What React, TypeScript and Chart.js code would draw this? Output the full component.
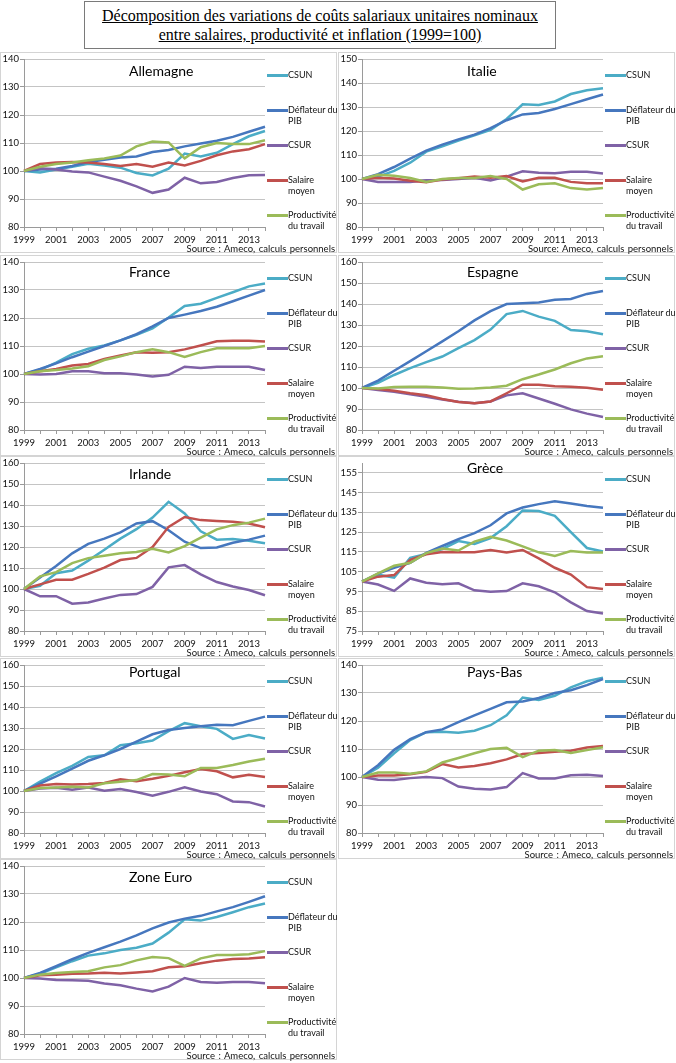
import { useEffect, useRef } from 'react';
import { Chart, registerables } from 'chart.js';

Chart.register(...registerables);

const years = ['1999', '2000', '2001', '2002', '2003', '2004', '2005', '2006', '2007', '2008', '2009', '2010', '2011', '2012', '2013', '2014'];

const seriesNames = ['CSUN', 'Déflateur du PIB', 'CSUR', 'Salaire moyen', 'Productivité du travail'];
const legendLines = [['CSUN'], ['Déflateur du', 'PIB'], ['CSUR'], ['Salaire', 'moyen'], ['Productivité', 'du travail']];
const seriesColors = ['#4bacc6', '#4677be', '#7f62a6', '#c0504d', '#9bbb59'];

const ticks80to140 = [80, 90, 100, 110, 120, 130, 140];
const ticks80to150 = [80, 90, 100, 110, 120, 130, 140, 150];
const ticks80to160 = [80, 90, 100, 110, 120, 130, 140, 150, 160];
const ticks75to155 = [75, 85, 95, 105, 115, 125, 135, 145, 155];

// Allemagne
const deCsun = [100, 99.5, 100.5, 101.5, 102.6, 102, 101.2, 99.3, 98.4, 100.8, 106.2, 105.2, 106.5, 109.6, 112.4, 114.3];
const deDefl = [100, 100.5, 100.8, 101.8, 103.2, 104, 104.8, 105.2, 106.8, 107.5, 108.8, 109.8, 110.8, 112.2, 114, 115.8];
const deCsur = [100, 101, 100.5, 99.8, 99.5, 98, 96.5, 94.5, 92.2, 93.4, 97.6, 95.6, 96.1, 97.5, 98.5, 98.6];
const deSal = [100, 102.5, 103, 103.2, 103, 102.5, 101.8, 102.5, 101.5, 103, 102, 103.6, 105.6, 107, 107.8, 109.6];
const deProd = [100, 101.5, 102.5, 103, 103.8, 104.5, 105.5, 108.8, 110.5, 110.2, 104.5, 108.5, 110, 109.6, 109.6, 111];

// Italie
const itCsun = [100, 101, 103.4, 106.8, 111.4, 113.6, 116, 118.2, 120.5, 125, 131.1, 130.8, 132.3, 135.4, 137, 137.8];
const itDefl = [100, 102, 105, 108.5, 111.8, 114.3, 116.5, 118.5, 121.2, 124.5, 126.9, 127.5, 129.2, 131.2, 133.2, 135.2];
const itCsur = [100, 98.8, 98.8, 98.8, 99.5, 99.6, 100, 100.5, 99.4, 101, 103.2, 102.6, 102.4, 103, 103, 102.3];
const itSal = [100, 100.5, 100.2, 99.3, 98.6, 99.8, 100.3, 101, 100.5, 101.2, 99, 100.5, 100.5, 98.8, 98.2, 98.2];
const itProd = [100, 101.8, 101.4, 100.4, 98.8, 100, 100.4, 100.4, 101.2, 100, 95.6, 97.8, 98.2, 96.2, 95.6, 96.2];

// France
const frCsun = [100, 101.5, 104.1, 107.1, 109, 110.2, 112, 114, 116.3, 120.2, 124.3, 125.1, 127.2, 129.2, 131.3, 132.3];
const frDefl = [100, 101.8, 103.8, 106, 108, 110, 112, 114.2, 117, 120, 121.2, 122.5, 124, 126, 128, 130];
const frCsur = [100, 99.8, 100, 101, 101, 100.3, 100.3, 99.8, 99.1, 99.7, 102.6, 102.1, 102.6, 102.6, 102.6, 101.4];
const frSal = [100, 101, 101.8, 103, 103.6, 105.4, 106.6, 107.8, 107.6, 107.8, 108.8, 110.2, 111.7, 111.9, 111.9, 111.6];
const frProd = [100, 101, 101.4, 102, 102.8, 105, 106.3, 107.8, 108.8, 107.8, 106.1, 107.8, 109.2, 109.2, 109.2, 110];

// Espagne
const esCsun = [100, 102.5, 106.2, 109.5, 112.3, 115, 119, 122.8, 127.8, 135.2, 136.7, 134, 132, 127.6, 127, 125.6];
const esDefl = [100, 103.5, 108.2, 112.8, 117.5, 122.2, 127, 132.2, 136.6, 140, 140.4, 140.7, 142, 142.4, 144.8, 146.2];
const esCsur = [100, 99, 98.2, 97, 95.8, 94.5, 93.5, 92.7, 93.6, 96.5, 97.5, 95, 92.5, 89.8, 87.8, 86.2];
const esSal = [100, 99.5, 98.7, 97.5, 96.5, 94.8, 93.3, 92.7, 93.6, 97.5, 101.6, 101.5, 100.8, 100.6, 100.1, 99.2];
const esProd = [100, 99.8, 100.5, 100.6, 100.6, 100.2, 99.6, 99.8, 100.2, 101.1, 104.2, 106.4, 108.8, 111.8, 114.1, 115.1];

// Irlande
const ieCsun = [100, 101.5, 107.5, 108.8, 113.5, 118.7, 124, 128.5, 134, 141.5, 136, 127.5, 123.5, 123.8, 123, 121.8];
const ieDefl = [100, 105.5, 111, 117, 121.5, 124, 127, 131.2, 132.3, 128, 122.5, 119.5, 119.8, 122, 123.5, 125.4];
const ieCsur = [100, 96.5, 96.6, 93, 93.6, 95.5, 97.2, 97.6, 101, 110.3, 111.4, 107, 103.3, 101.2, 99.5, 97];
const ieSal = [100, 102.2, 104.4, 104.4, 107.2, 110.2, 113.8, 114.8, 120, 129.6, 134.3, 132.8, 132.4, 132, 131.2, 129.4];
const ieProd = [100, 106, 108, 112.3, 114.7, 115.8, 117, 117.6, 119.2, 117.4, 120.4, 124.5, 128.4, 130.4, 131.6, 133.5];

// Grèce
const grCsun = [100, 103.5, 102, 112, 114, 116.5, 120.5, 119, 122, 128, 136, 135.7, 133.3, 125, 117, 115.2];
const grDefl = [100, 104, 107, 109.5, 114.5, 118, 121.5, 124.5, 128.5, 134.5, 137.5, 139.2, 140.6, 139.5, 138.2, 137.4];
const grCsur = [100, 98.5, 95.3, 101.6, 99.4, 98.7, 99.1, 95.6, 94.8, 95.2, 99.1, 97.6, 94.6, 89.5, 85.1, 83.8];
const grSal = [100, 102.5, 103.3, 111, 113.8, 115, 114.8, 114.8, 116, 114.7, 116, 111.7, 107, 103.6, 97.2, 96.2];
const grProd = [100, 104.2, 108, 109.5, 114.4, 116.7, 115.7, 120.2, 122.7, 120.8, 117.8, 114.8, 113, 115.5, 114.7, 114.7];

// Portugal
const ptCsun = [100, 104.5, 108.5, 112, 116.2, 117, 121.8, 122.7, 124, 128.5, 132.3, 130.8, 129.6, 124.8, 126.6, 125];
const ptDefl = [100, 103.5, 107, 110.7, 114.4, 117, 120, 123.5, 127, 129, 130, 130.8, 131.6, 131.3, 133.4, 135.4];
const ptCsur = [100, 101.2, 101.6, 100.6, 101.7, 100.1, 101, 99.5, 97.8, 99.6, 101.8, 99.8, 98.5, 95, 94.7, 92.6];
const ptSal = [100, 102.6, 103.3, 103.1, 103.3, 103.8, 105.6, 104.7, 105.8, 107.2, 108.9, 110.5, 109.4, 106.5, 107.7, 106.7];
const ptProd = [100, 101.4, 101.7, 102, 101.7, 103.7, 104.4, 105.2, 108.1, 107.8, 107, 111, 111, 112.4, 114, 115.4];

// Pays-Bas
const nlCsun = [100, 103.3, 108.5, 113.2, 116, 116.2, 115.8, 116.5, 118.5, 122, 128.4, 127.5, 129, 132, 134.2, 135.5];
const nlDefl = [100, 104.2, 109.7, 113.5, 116, 117, 119.6, 122, 124.3, 126.7, 127, 128.2, 130, 131, 132.8, 135];
const nlCsur = [100, 99, 98.9, 99.6, 100, 99.6, 96.6, 95.8, 95.5, 96.4, 101.4, 99.5, 99.5, 100.6, 100.8, 100.4];
const nlSal = [100, 100.5, 100.5, 101, 101.9, 104.6, 103.4, 103.9, 104.9, 106.3, 108.2, 108.6, 109, 109.4, 110.5, 111.1];
const nlProd = [100, 101.6, 101.6, 101.2, 102, 105.2, 106.8, 108.5, 110, 110.4, 107.1, 109.4, 109.6, 108.6, 109.6, 110.6];

// Zone Euro
const ezCsun = [100, 101.5, 103.8, 106, 108, 108.8, 110, 110.8, 112.3, 116.2, 121, 120.5, 121.8, 123.5, 125.3, 126.6];
const ezDefl = [100, 101.8, 104.2, 106.7, 109, 111, 113, 115.2, 117.7, 119.8, 121.2, 122.2, 123.8, 125.3, 127.2, 129.2];
const ezCsur = [100, 99.8, 99.3, 99.2, 99, 98, 97.4, 96.2, 95.2, 96.9, 100, 98.6, 98.3, 98.6, 98.6, 98.1];
const ezSal = [100, 101, 101.2, 101.5, 101.6, 101.9, 101.6, 102, 102.4, 103.8, 104.2, 105.3, 106.2, 106.8, 107, 107.4];
const ezProd = [100, 101.2, 101.8, 102.1, 102.4, 103.8, 104.6, 106.3, 107.5, 107.1, 104.3, 107, 108.2, 108.2, 108.5, 109.6];

const sourceText = 'Source : Ameco, calculs personnels';

interface PanelConfig {
  name: string;
  series: number[][];
  yTicks: number[];
  yMax: number;
  source: string;
  titleY: number;
}

const panels: PanelConfig[] = [
  { name: 'Allemagne', series: [deCsun, deDefl, deCsur, deSal, deProd], yTicks: ticks80to140, yMax: 140, source: sourceText, titleY: 19 },
  { name: 'Italie', series: [itCsun, itDefl, itCsur, itSal, itProd], yTicks: ticks80to150, yMax: 150, source: 'Source: Ameco, calculs personnels', titleY: 19 },
  { name: 'France', series: [frCsun, frDefl, frCsur, frSal, frProd], yTicks: ticks80to140, yMax: 140, source: sourceText, titleY: 17 },
  { name: 'Espagne', series: [esCsun, esDefl, esCsur, esSal, esProd], yTicks: ticks80to160, yMax: 160, source: sourceText, titleY: 17 },
  { name: 'Irlande', series: [ieCsun, ieDefl, ieCsur, ieSal, ieProd], yTicks: ticks80to160, yMax: 160, source: sourceText, titleY: 18 },
  { name: 'Grèce', series: [grCsun, grDefl, grCsur, grSal, grProd], yTicks: ticks75to155, yMax: 160, source: sourceText, titleY: 12 },
  { name: 'Portugal', series: [ptCsun, ptDefl, ptCsur, ptSal, ptProd], yTicks: ticks80to160, yMax: 160, source: sourceText, titleY: 14 },
  { name: 'Pays-Bas', series: [nlCsun, nlDefl, nlCsur, nlSal, nlProd], yTicks: ticks80to140, yMax: 140, source: sourceText, titleY: 14 },
  { name: 'Zone Euro', series: [ezCsun, ezDefl, ezCsur, ezSal, ezProd], yTicks: ticks80to140, yMax: 140, source: sourceText, titleY: 18 },
];

const rowTops = [52, 255, 456, 658, 859];
const PANEL_W = 337;
const PANEL_H = 201;
const FONT = 'Lato, "Open Sans", sans-serif';

const Panel = ({ cfg, left, top }: { cfg: PanelConfig; left: number; top: number }) => {
  const canvasRef = useRef<HTMLCanvasElement>(null);

  useEffect(() => {
    if (!canvasRef.current) return;
    const chart = new Chart(canvasRef.current, {
      type: 'line',
      data: {
        labels: years,
        datasets: cfg.series.map((values, i) => ({
          label: seriesNames[i],
          data: values,
          borderColor: seriesColors[i],
          backgroundColor: seriesColors[i],
          borderWidth: 2.5,
          pointRadius: 0,
          tension: 0,
          order: 4 - i,
        })),
      },
      options: {
        responsive: true,
        maintainAspectRatio: false,
        animation: false,
        events: [],
        layout: { padding: { left: 0, right: 72, top: 7, bottom: 0 } },
        plugins: {
          legend: { display: false },
          tooltip: { enabled: false },
          title: { display: false },
        },
        scales: {
          x: {
            type: 'category',
            offset: false,
            grid: {
              drawOnChartArea: false,
              drawTicks: true,
              tickLength: 4,
              color: '#9a9a9a',
            },
            border: { color: '#9a9a9a' },
            ticks: {
              autoSkip: false,
              maxRotation: 0,
              padding: 3,
              color: '#111',
              font: { family: FONT, size: 9.5 },
              callback: (_v, index) => (index % 2 === 0 ? years[index] : ''),
            },
            afterFit: (scale) => {
              scale.height = PANEL_H - 175;
            },
          },
          y: {
            min: cfg.yTicks[0],
            max: cfg.yMax,
            grid: {
              color: '#c4c4c4',
              tickLength: 4,
              tickColor: '#9a9a9a',
            },
            border: { color: '#9a9a9a' },
            ticks: {
              padding: 1,
              color: '#111',
              font: { family: FONT, size: 9.5 },
            },
            afterBuildTicks: (scale) => {
              scale.ticks = cfg.yTicks.map((v) => ({ value: v }));
            },
            afterFit: (scale) => {
              scale.width = 24;
            },
          },
        },
      },
    });
    return () => chart.destroy();
  }, [cfg]);

  return (
    <div style={{ position: 'absolute', left, top, width: PANEL_W, height: PANEL_H, fontFamily: FONT }}>
      <div style={{ position: 'absolute', inset: 0 }}>
        <canvas ref={canvasRef} />
      </div>
      <div style={{ position: 'absolute', inset: 0, border: '1px solid #d4d4d4', pointerEvents: 'none' }} />
      <div style={{ position: 'absolute', left: 129, top: cfg.titleY - 9, fontSize: 14, lineHeight: '18px', color: '#000' }}>
        {cfg.name}
      </div>
      {legendLines.map((lines, i) => (
        <div key={i} style={{ position: 'absolute', left: 267, top: 23 + i * 35 - 6 }}>
          <div style={{ position: 'absolute', left: 0, top: 5, width: 21, height: 3, background: seriesColors[i] }} />
          <div style={{ position: 'absolute', left: 21, top: 0, fontSize: 9, lineHeight: '11px', color: '#111', whiteSpace: 'nowrap' }}>
            {lines.map((l, j) => (
              <div key={j}>{l}</div>
            ))}
          </div>
        </div>
      ))}
      <div style={{ position: 'absolute', right: 2, top: 191, fontSize: 9.5, lineHeight: '11px', color: '#111', whiteSpace: 'nowrap', wordSpacing: 1 }}>
        {cfg.source}
      </div>
    </div>
  );
};

const App = () => {
  return (
    <div style={{ position: 'absolute', left: 0, top: 0, width: 676, height: 1063, background: '#fff', overflow: 'hidden' }}>
      <div
        style={{
          position: 'absolute',
          left: 84,
          top: 1,
          width: 472,
          height: 48,
          boxSizing: 'border-box',
          border: '1px solid #7a7a7a',
          paddingTop: 4,
          textAlign: 'center',
          fontFamily: '"Liberation Serif", "Times New Roman", serif',
          fontSize: 16,
          lineHeight: '19px',
          textDecoration: 'underline',
          color: '#000',
        }}
      >
        <div>Décomposition des variations de coûts salariaux unitaires nominaux</div>
        <div>entre salaires, productivité et inflation (1999=100)</div>
      </div>
      {panels.map((cfg, i) => (
        <Panel key={cfg.name} cfg={cfg} left={i % 2 === 0 ? 0 : 338} top={rowTops[Math.floor(i / 2)]} />
      ))}
    </div>
  );
};

export default App;
